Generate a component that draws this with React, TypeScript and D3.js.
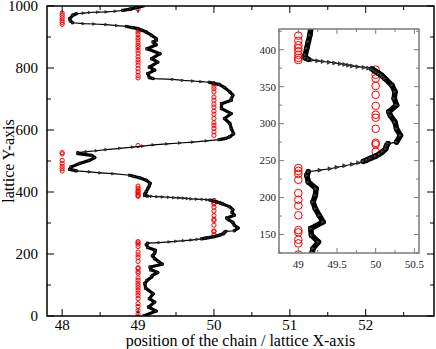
import * as d3 from "d3";

// chain position along the lattice: y index -> x position
const chainY = [
  0, 2, 16, 29, 45, 56, 72, 90, 105, 115, 126, 131, 140, 149, 158, 167, 176, 185, 194, 203, 212, 221, 230,
  235, 237, 239, 241, 243, 245, 247, 249, 251, 253, 256, 259, 262, 266, 270, 273, 275, 284, 293, 302, 311, 316,
  325, 334, 343, 352, 361, 364, 366, 368, 370, 372, 374, 375, 376, 377, 378, 379, 380, 381, 382, 383, 384, 385,
  386, 387, 389, 393, 402, 411, 420, 428, 438, 446, 450, 454, 459, 462, 465, 468, 473, 481, 492, 502, 511, 518,
  524, 527, 530, 533, 537, 541, 545, 548, 552, 555, 558, 561, 565, 569, 573, 578, 588, 604, 621, 637, 653, 669,
  685, 696, 701, 712, 723, 737, 747, 750, 754, 756, 758, 760, 763, 766, 769, 782, 793, 803, 819, 830, 846, 862,
  875, 884, 889, 895, 905, 916, 922, 927, 930, 934, 937, 940, 942, 943, 946, 952, 959, 970, 975, 977, 979, 980,
  981, 983, 986, 990, 995, 1000,
];
const chainX = [
  49.08, 49.09, 49.24, 49.14, 49.22, 49.15, 49.2, 49.1, 49.09, 49.12, 49.18, 49.19, 49.26, 49.17, 49.16, 49.32,
  49.27, 49.22, 49.19, 49.22, 49.23, 49.13, 49.11, 49.13, 49.28, 49.41, 49.5, 49.6, 49.7, 49.78, 49.84, 49.89,
  49.93, 50.0, 50.05, 50.09, 50.13, 50.14, 50.16, 50.27, 50.32, 50.27, 50.25, 50.19, 50.17, 50.27, 50.24, 50.25,
  50.21, 50.12, 50.09, 50.07, 50.04, 50.01, 49.98, 49.95, 49.91, 49.85, 49.77, 49.7, 49.65, 49.6, 49.54, 49.47,
  49.4, 49.32, 49.25, 49.18, 49.13, 49.09, 49.09, 49.11, 49.13, 49.15, 49.16, 49.11, 49.02, 48.95, 48.89, 48.67,
  48.5, 48.36, 48.19, 48.1, 48.12, 48.23, 48.36, 48.43, 48.39, 48.21, 48.21, 48.32, 48.45, 48.58, 48.76, 48.93,
  49.06, 49.2, 49.38, 49.55, 49.72, 49.9, 50.07, 50.16, 50.21, 50.26, 50.23, 50.21, 50.14, 50.23, 50.1, 50.1,
  50.23, 50.23, 50.25, 50.21, 50.14, 50.07, 50.0, 49.94, 49.83, 49.72, 49.59, 49.46, 49.2, 49.15, 49.13, 49.22,
  49.15, 49.26, 49.18, 49.29, 49.12, 49.24, 49.2, 49.24, 49.24, 49.18, 49.11, 49.05, 49.0, 48.93, 48.85, 48.72,
  48.58, 48.42, 48.28, 48.14, 48.11, 48.1, 48.14, 48.19, 48.28, 48.36, 48.47, 48.58, 48.7, 48.8, 48.9, 48.98,
  49.07,
];

// red open circles (lattice sites), grouped by lattice X
const red48 = [941, 947, 954, 962, 970, 977, 468, 475, 483, 492, 502, 523, 527];
const red49 = [
  7, 18, 31, 40, 56, 66, 74, 83, 91, 99, 106, 115, 123, 138, 143, 153, 156, 176, 189, 197, 206, 224, 232, 236,
  240, 386, 389, 393, 398, 402, 406, 412, 419, 550, 768, 776, 787, 798, 809, 819, 827, 836, 848, 857, 866, 873,
  881, 891, 898, 908, 916, 924, 990, 998,
];
const red50 = [
  262, 272, 274, 293, 308, 312, 324, 339, 351, 361, 366, 373, 583, 594, 605, 615, 623, 637, 651, 661, 674, 683,
  696, 706, 723, 733, 741, 750,
];

const mainXTicks = [48, 49, 50, 51, 52];
const mainXMinor = [48.5, 49.5, 50.5, 51.5, 52.5];
const mainYTicks = [0, 200, 400, 600, 800, 1000];
const mainYMinor = [100, 300, 500, 700, 900];
const insetXTicks = [49, 49.5, 50, 50.5];
const insetXMinor = [48.75, 49.25, 49.75, 50.25];
const insetYTicks = [150, 200, 250, 300, 350, 400];
const insetYMinor = [125, 175, 225, 275, 325, 375, 425];

const W = 436;
const H = 349;
const font = "'Liberation Serif', 'Times New Roman', serif";

const Panel = ({ box, xDomain, yDomain, id, opts }) => {
  const x = d3.scaleLinear().domain(xDomain).range([box.left, box.right]);
  const y = d3.scaleLinear().domain(yDomain).range([box.bottom, box.top]);
  const pts = chainY.map((v, i) => [chainX[i], v]);
  const line = d3
    .line()
    .x((d) => x(d[0]))
    .y((d) => y(d[1]));
  // steep stretches of the chain: markers pile up into a solid band
  const dense = [];
  for (let i = 0; i < pts.length - 1; i++) {
    const dx = Math.abs(pts[i + 1][0] - pts[i][0]);
    const dy = Math.abs(pts[i + 1][1] - pts[i][1]);
    if (dx / dy < 0.03) dense.push([pts[i], pts[i + 1]]);
  }
  const circles = [
    ...red48.map((v) => [48, v]),
    ...red49.map((v) => [49, v]),
    ...red50.map((v) => [50, v]),
  ];
  const m = opts.marker;
  const tri = `M${-m},${-m}L${m},0L${-m},${m}Z`;
  const c = opts.frame;
  const w = box.right - box.left;
  const h = box.bottom - box.top;
  return (
    <g>
      <rect x={box.left} y={box.top} width={w} height={h} fill="#fff" />
      <clipPath id={id}>
        <rect x={box.left} y={box.top} width={w} height={h} />
      </clipPath>
      <g clipPath={`url(#${id})`}>
        {circles.map((d, i) => (
          <circle
            key={i}
            cx={x(d[0])}
            cy={y(d[1])}
            r={opts.r}
            fill="none"
            stroke="#ff0000"
            strokeWidth={1}
          />
        ))}
        <path d={line(pts)} fill="none" stroke="#000" strokeWidth={1.2} />
        {dense.map((s, i) => (
          <line
            key={i}
            x1={x(s[0][0])}
            y1={y(s[0][1])}
            x2={x(s[1][0])}
            y2={y(s[1][1])}
            stroke="#000"
            strokeWidth={opts.band}
            strokeLinecap="round"
          />
        ))}
        {pts.map((d, i) => (
          <path
            key={i}
            d={tri}
            transform={`translate(${x(d[0])},${y(d[1])})`}
            fill="#444"
            stroke="#000"
            strokeWidth={0.5}
          />
        ))}
      </g>
      {/* ticks, mirrored on all four sides */}
      {[...opts.xt.map((t) => [t, opts.major]), ...opts.xm.map((t) => [t, opts.minor])].map(([t, len], i) => (
        <g key={"x" + i} stroke={c} strokeWidth={1}>
          <line x1={x(t)} x2={x(t)} y1={box.bottom} y2={box.bottom - len} />
          <line x1={x(t)} x2={x(t)} y1={box.top} y2={box.top + len} />
        </g>
      ))}
      {[...opts.yt.map((t) => [t, opts.major]), ...opts.ym.map((t) => [t, opts.minor])].map(([t, len], i) => (
        <g key={"y" + i} stroke={c} strokeWidth={1}>
          <line x1={box.left} x2={box.left + len} y1={y(t)} y2={y(t)} />
          <line x1={box.right} x2={box.right - len} y1={y(t)} y2={y(t)} />
        </g>
      ))}
      <rect x={box.left} y={box.top} width={w} height={h} fill="none" stroke={c} strokeWidth={1.5} />
      {opts.xt.map((t) => (
        <text
          key={t}
          x={x(t)}
          y={box.bottom + opts.xLabelDy}
          textAnchor="middle"
          fontFamily={font}
          fontSize={opts.fs}
          fill={opts.textFill}
        >
          {t}
        </text>
      ))}
      {opts.yt.map((t) => (
        <text
          key={t}
          x={box.left - opts.yLabelDx}
          y={y(t)}
          dy="0.35em"
          textAnchor="end"
          fontFamily={font}
          fontSize={opts.fs}
          fill={opts.textFill}
        >
          {t}
        </text>
      ))}
    </g>
  );
};

export default function App() {
  const mainBox = { left: 47, right: 434, top: 6, bottom: 316 };
  const insetBox = { left: 279, right: 419, top: 29, bottom: 253 };
  return (
    <svg width={W} height={H} style={{ position: "absolute", left: 0, top: 0 }}>
      <rect width={W} height={H} fill="#fff" />
      <Panel
        box={mainBox}
        xDomain={[47.8, 52.9]}
        yDomain={[0, 1000]}
        id="clipMain"
        opts={{
          marker: 1.4,
          r: 2.1,
          band: 3.2,
          frame: "#000",
          major: 7,
          minor: 4,
          xt: mainXTicks,
          xm: mainXMinor,
          yt: mainYTicks,
          ym: mainYMinor,
          fs: 15,
          xLabelDy: 13.5,
          yLabelDx: 9,
          textFill: "#000",
        }}
      />
      <Panel
        box={insetBox}
        xDomain={[48.75, 50.56]}
        yDomain={[125, 428]}
        id="clipInset"
        opts={{
          marker: 2.0,
          r: 3.8,
          band: 5.5,
          frame: "#7a7a7a",
          major: 5,
          minor: 3,
          xt: insetXTicks,
          xm: insetXMinor,
          yt: insetYTicks,
          ym: insetYMinor,
          fs: 11,
          xLabelDy: 15,
          yLabelDx: 3,
          textFill: "#222",
        }}
      />
      <text
        transform={`translate(14,${(mainBox.top + mainBox.bottom) / 2}) rotate(-90)`}
        textAnchor="middle"
        fontFamily={font}
        fontSize={16}
      >
        lattice Y-axis
      </text>
      <text
        x={(mainBox.left + mainBox.right) / 2}
        y={345.5}
        textAnchor="middle"
        fontFamily={font}
        fontSize={16}
      >
        position of the chain / lattice X-axis
      </text>
    </svg>
  );
}
